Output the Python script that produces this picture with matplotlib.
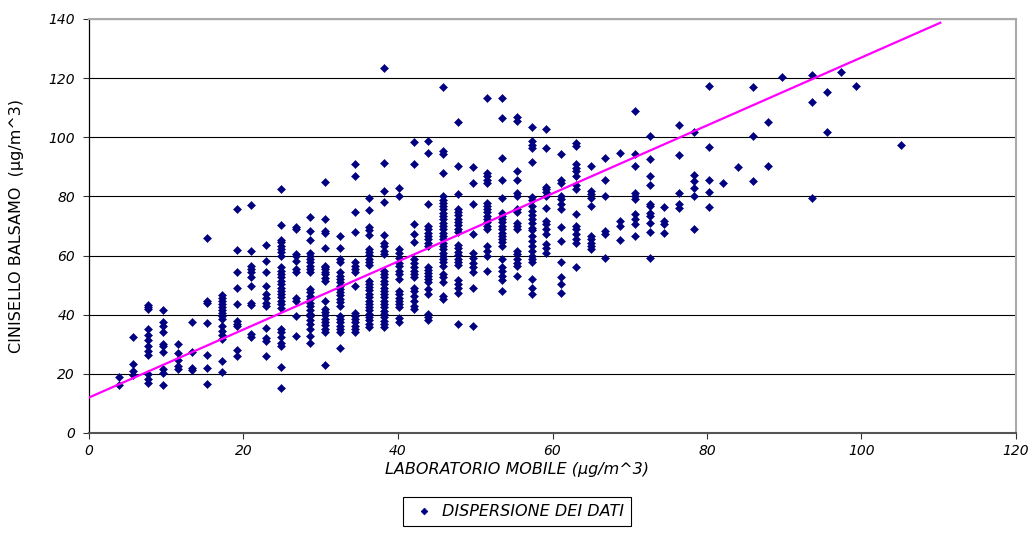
import numpy as np
import matplotlib
matplotlib.use('Agg')
import matplotlib.pyplot as plt

# scatter columns: x position (µg/m^3) and y values
c02 = [19.0, 16.2]
c03 = [32.6, 23.2, 21.0, 19.5]
c04 = [43.3, 42.5, 41.9, 35.2, 33.3, 31.4, 29.4, 27.7, 26.5, 20.0, 18.4, 16.8]
c05 = [41.5, 37.5, 36.2, 34.3, 30.2, 29.3, 27.5, 21.6, 20.4, 16.2]
c06 = [30.2, 27.2, 24.6, 22.5, 21.7]
c07 = [37.6, 27.4, 22.0, 21.2]
c08 = [65.8, 44.8, 44.0, 37.1, 26.3, 22.1, 16.7]
c09 = [46.5, 45.5, 44.5, 43.5, 42.5, 41.5, 40.5, 39.5, 38.6, 36.2, 34.6, 33.0, 31.9, 24.4, 20.7]
c10 = [75.8, 61.9, 54.6, 49.2, 43.5, 37.9, 37.0, 36.2, 28.2, 26.0]
c11 = [77.2, 61.7, 56.4, 55.4, 54.3, 52.6, 49.8, 44.1, 43.2, 33.4, 32.6]
c12 = [63.6, 58.2, 54.5, 49.7, 47.0, 45.5, 44.0, 43.0, 35.5, 32.0, 31.0, 26.0]
c13 = [82.4, 70.4, 65.4, 64.5, 63.4, 62.3, 61.1, 60.0, 56.0, 54.9, 53.8, 52.6, 51.5, 50.4,
       49.2, 48.1, 47.0, 45.9, 44.7, 43.6, 42.4, 35.1, 34.0, 32.3, 30.6, 29.4, 22.4, 15.3]
c14 = [69.7, 68.9, 60.7, 59.8, 58.2, 55.5, 54.5, 45.6, 44.8, 39.7, 32.8]
c15 = [73.0, 68.2, 65.3, 60.8, 59.8, 58.8, 57.7, 56.6, 55.5, 54.4, 48.8, 47.6, 46.4, 45.2,
       44.0, 42.8, 41.6, 40.4, 39.5, 38.2, 36.8, 35.2, 32.8, 30.5]
c16 = [84.8, 72.2, 68.2, 67.6, 62.5, 56.6, 56.0, 55.3, 54.6, 53.6, 52.5, 51.4, 44.8, 42.0,
       41.0, 39.8, 38.6, 37.5, 36.4, 35.3, 34.2, 23.1]
c17 = [66.6, 62.5, 58.9, 57.7, 54.4, 53.2, 52.1, 51.0, 49.8, 48.7, 47.6, 46.5, 45.3, 44.2,
       43.0, 39.6, 38.5, 37.4, 36.2, 35.1, 34.0, 28.7]
c18 = [90.8, 87.0, 74.9, 67.9, 57.7, 56.6, 55.5, 54.3, 49.8, 40.7, 39.6, 38.5, 37.4, 36.2,
       35.1, 34.0]
c19 = [79.5, 75.4, 69.6, 68.5, 66.8, 62.3, 61.2, 60.1, 58.9, 57.8, 56.7, 51.5, 50.4, 49.3,
       48.2, 47.0, 45.9, 44.8, 43.7, 42.6, 41.5, 40.3, 39.2, 38.1, 37.0, 35.9]
c20 = [123.4, 91.3, 81.8, 78.2, 67.0, 64.4, 63.3, 61.6, 60.4, 54.8, 53.7, 52.6, 51.5, 50.4,
       49.2, 48.1, 47.0, 45.9, 44.8, 43.6, 42.5, 41.4, 40.3, 39.2, 38.0, 36.9, 35.8]
c21 = [82.9, 80.0, 62.1, 60.8, 59.3, 57.6, 56.5, 54.8, 53.7, 52.0, 48.1, 47.0, 45.8, 44.7,
       43.6, 42.5, 38.8, 37.4]
c22 = [98.3, 90.8, 70.6, 67.2, 64.6, 58.8, 57.4, 56.0, 54.8, 53.7, 52.6, 49.2, 48.1, 46.4,
       44.7, 43.0, 41.9]
c23 = [98.9, 94.7, 77.6, 70.0, 68.9, 67.8, 66.6, 65.5, 64.4, 63.3, 56.0, 55.0, 54.0, 53.0,
       52.0, 50.9, 48.7, 47.0, 40.2, 39.1, 38.3]
c24 = [117.0, 95.3, 94.2, 87.8, 80.1, 78.9, 77.8, 76.7, 75.6, 74.5, 73.3, 72.2, 71.1, 70.0,
       68.9, 67.8, 66.6, 65.5, 64.4, 63.3, 62.2, 61.0, 59.9, 58.8, 57.7, 56.5, 53.7, 52.6,
       50.9, 46.4, 45.3]
c25 = [105.1, 90.2, 80.7, 75.8, 74.7, 73.6, 72.5, 71.3, 70.2, 69.1, 68.0, 63.5, 62.4, 61.3,
       60.1, 59.0, 57.9, 56.8, 51.8, 50.3, 48.9, 47.3, 36.9]
c26 = [89.9, 84.4, 77.3, 67.2, 60.8, 59.3, 57.6, 56.0, 54.3, 49.2, 36.1]
c27 = [113.3, 88.0, 86.9, 85.7, 84.6, 77.9, 76.8, 75.7, 74.6, 73.4, 72.3, 71.2, 70.1, 69.0,
       63.3, 61.6, 59.9, 54.8]
c28 = [113.3, 106.5, 93.0, 85.5, 79.6, 74.5, 73.4, 72.3, 71.2, 70.1, 68.9, 67.8, 66.7, 65.6,
       64.5, 63.3, 58.8, 56.0, 54.8, 53.1, 51.8, 48.1]
c29 = [107.0, 105.5, 88.5, 85.7, 81.2, 80.3, 75.6, 74.7, 71.1, 70.0, 68.9, 61.6, 60.4, 58.8,
       57.6, 56.5, 53.1]
c30 = [103.4, 98.7, 97.5, 96.4, 91.6, 79.8, 78.7, 76.7, 75.1, 73.6, 72.2, 71.1, 69.4, 68.5,
       66.6, 64.9, 63.3, 61.6, 59.9, 58.8, 57.9, 52.2, 49.2, 47.0]
c31 = [102.8, 96.4, 83.3, 82.4, 81.5, 80.3, 76.2, 71.7, 70.6, 68.9, 67.2, 63.8, 62.7, 61.0]
c32 = [94.2, 85.7, 84.6, 80.1, 79.0, 77.3, 75.8, 69.8, 64.9, 57.9, 52.6, 50.3, 47.5]
c33 = [98.1, 97.0, 90.8, 89.7, 88.5, 86.9, 84.0, 82.4, 73.9, 70.0, 68.9, 67.2, 65.5, 64.4, 56.2]
c34 = [90.2, 81.8, 80.7, 79.6, 76.7, 66.6, 65.5, 64.4, 63.3, 62.1]
c35 = [93.0, 85.5, 80.1, 68.3, 67.2, 59.3]
c36 = [94.7, 71.7, 70.0, 65.2]
c37 = [108.8, 94.5, 90.2, 81.2, 80.1, 79.0, 73.9, 72.2, 70.6, 66.6]
c38 = [100.6, 92.5, 86.9, 84.0, 77.6, 76.7, 74.5, 73.4, 70.9, 68.0, 59.1]
c39 = [76.4, 71.7, 70.6, 67.8]
c40 = [104.0, 93.9, 81.2, 77.3, 76.2]
c41 = [101.7, 87.4, 85.2, 82.9, 80.1, 69.1]
c42 = [117.5, 96.6, 85.7, 81.5, 76.5]
c43 = [84.4]
c44 = [89.9]
c45 = [117.0, 100.6, 85.2]
c46 = [105.3, 90.2]
c47 = [120.3]
c49 = [120.9, 111.9, 79.3]
c50 = [115.3, 101.7]
c51 = [122.2]
c52 = [117.2]
c55 = [97.4]

col_x = [3.82, 5.73, 7.64, 9.55, 11.46, 13.37, 15.28, 17.19, 19.10, 21.01, 22.92, 24.83,
         26.74, 28.65, 30.56, 32.47, 34.38, 36.29, 38.20, 40.11, 42.02, 43.93, 45.84, 47.75,
         49.66, 51.57, 53.48, 55.39, 57.30, 59.21, 61.12, 63.03, 64.94, 66.85, 68.76, 70.67,
         72.58, 74.49, 76.40, 78.31, 80.22, 82.13, 84.04, 85.95, 87.86, 89.77, 93.59, 95.50,
         97.41, 99.32, 105.05]
col_y = [c02, c03, c04, c05, c06, c07, c08, c09, c10, c11, c12, c13, c14, c15, c16, c17,
         c18, c19, c20, c21, c22, c23, c24, c25, c26, c27, c28, c29, c30, c31, c32, c33,
         c34, c35, c36, c37, c38, c39, c40, c41, c42, c43, c44, c45, c46, c47, c49, c50,
         c51, c52, c55]

x_ticks = [0, 20, 40, 60, 80, 100, 120]
y_ticks = [0, 20, 40, 60, 80, 100, 120, 140]

# trend line
trend_slope = 1.15
trend_intercept = 12.0
trend_x = [0, 110.2]

xs = []
ys = []
for xv, yl in zip(col_x, col_y):
    xs += [xv] * len(yl)
    ys += yl

plt.rcParams['font.family'] = ['DejaVu Sans']

fig = plt.figure(figsize=(10.34, 5.54), dpi=100)
ax = fig.add_axes([89/1034, 1 - 433/554, (1016 - 89)/1034, (433 - 19)/554])

ax.plot(xs, ys, linestyle='none', marker='D', markersize=4.4, color='#000080',
        markeredgewidth=0.4, label='DISPERSIONE DEI DATI', zorder=3)
tx = np.array(trend_x)
ax.plot(tx, trend_intercept + trend_slope * tx, color='#FF00FF', linewidth=1.6, zorder=4)

ax.set_xlim(0, 120)
ax.set_ylim(0, 140)
ax.set_xticks(x_ticks)
ax.set_xticklabels([str(v) for v in x_ticks], fontstyle='italic', fontsize=10)
ax.set_yticks(y_ticks)
ax.set_yticklabels([str(v) for v in y_ticks], fontstyle='italic', fontsize=10)
ax.yaxis.grid(True, color='#000000', linewidth=0.8)
ax.set_axisbelow(True)

ax.tick_params(axis='both', direction='out', length=4, width=0.8, color='#333333')
ax.tick_params(axis='x', pad=4)
ax.tick_params(axis='y', pad=6)

ax.spines['left'].set_color('#000000')
ax.spines['left'].set_linewidth(0.9)
ax.spines['bottom'].set_color('#555555')
ax.spines['bottom'].set_linewidth(1.5)
ax.spines['top'].set_color('#aaaaaa')
ax.spines['top'].set_linewidth(1.5)
ax.spines['right'].set_color('#aaaaaa')
ax.spines['right'].set_linewidth(1.5)

ax.set_xlabel('LABORATORIO MOBILE (µg/m^3)', fontsize=11.5, fontstyle='italic')
ax.xaxis.set_label_coords((517 - 89) / 927, -0.07)
ax.set_ylabel('CINISELLO BALSAMO  (µg/m^3)', fontsize=11.5)
ax.yaxis.set_label_coords(-0.07, 0.5)

leg = fig.legend(loc='upper center', bbox_to_anchor=(0.5, 1 - 497/554), fancybox=False,
                 edgecolor='#000000', framealpha=1, markerscale=0.8, handlelength=1.7,
                 handletextpad=0.3, borderpad=0.45, borderaxespad=0,
                 prop={'style': 'italic', 'size': 11.5})
leg.get_frame().set_linewidth(0.8)

fig.savefig('out.png', dpi=100)
